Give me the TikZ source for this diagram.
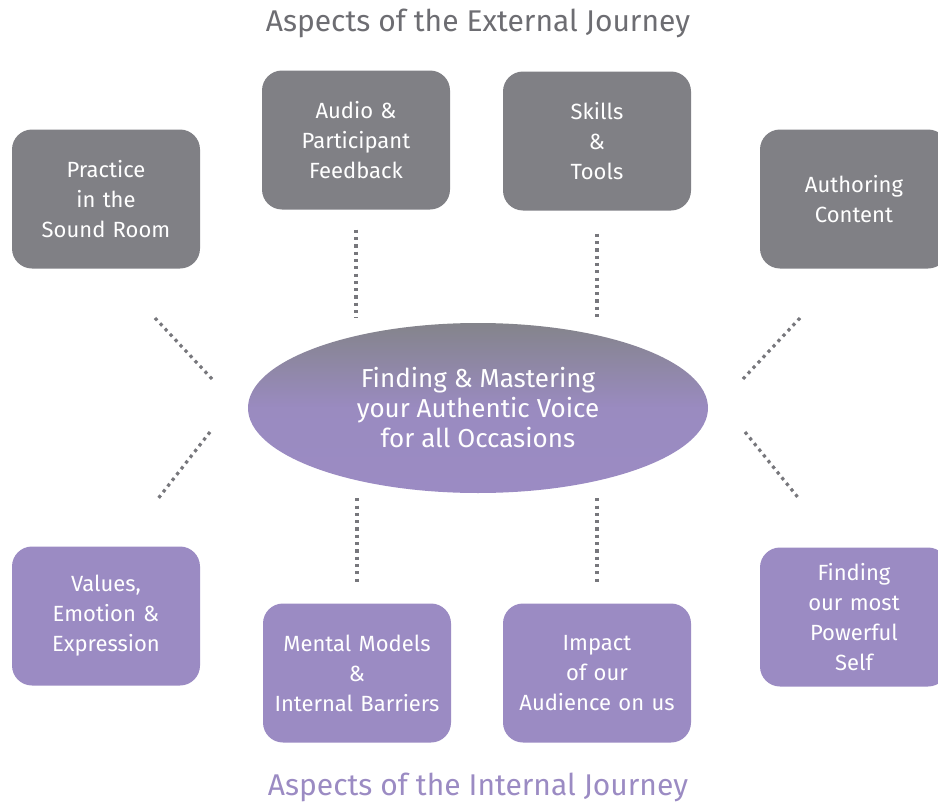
\documentclass[tikz,border=0pt]{standalone}
\usepackage{fontspec}
\setmainfont{Fira Sans}
\usetikzlibrary{shapes.geometric}
\definecolor{boxgrey}{HTML}{808085}
\definecolor{boxlilac}{HTML}{9B8BC3}
\definecolor{ellgrey}{HTML}{84848B}
\definecolor{titlegrey}{HTML}{6D6D72}
\definecolor{dotgrey}{HTML}{77777C}
\begin{document}
\begin{tikzpicture}[x=1pt,y=-1pt,
  aspect/.style={rounded corners=20pt,minimum width=188pt,minimum height=139pt,text width=185pt,align=center,text=white,inner sep=0pt,font=\fontsize{22}{30}\selectfont},
  outer/.style={aspect,fill=boxgrey},
  inner/.style={aspect,fill=boxlilac},
  dotline/.style={dotgrey,line width=3.2pt,dash pattern=on 3.2pt off 4.1pt}]
\clip (0,0) rectangle (938,803);
\node[ellipse,minimum width=460pt,minimum height=170pt,top color=ellgrey,bottom color=boxlilac,middle color=boxlilac!95!ellgrey,align=center,text=white,font=\fontsize{26}{30}\selectfont] (centre) at (478,408) {Finding \& Mastering\\your Authentic Voice\\for all Occasions};
\node[text=titlegrey,font=\fontsize{30}{30}\selectfont] (external) at (478,23) {Aspects of the External Journey};
\node[text=boxlilac,font=\fontsize{30}{30}\selectfont] (internal) at (478,787) {Aspects of the Internal Journey};
\node[outer] (practice) at (106,199) {Practice\\in the\\Sound Room};
\node[outer] (audio) at (356,140) {Audio \&\\Participant\\Feedback};
\node[outer] (skills) at (597,141) {Skills\\\&\\Tools};
\node[outer] (authoring) at (854,199) {Authoring\\Content};
\node[inner] (values) at (106,616) {Values,\\Emotion \&\\Expression};
\node[inner] (mental) at (357,673) {Mental Models\\\&\\Internal Barriers};
\node[inner] (impact) at (597,673) {Impact\\of our\\Audience on us};
\node[inner] (powerful) at (854,617) {Finding\\our most\\Powerful\\Self};
\coordinate (ul1) at (155,318);
\coordinate (ul2) at (213,380);
\coordinate (ll1) at (210,432);
\coordinate (ll2) at (157,500);
\coordinate (ur1) at (800,318);
\coordinate (ur2) at (742,380);
\coordinate (lr1) at (745,432);
\coordinate (lr2) at (800,500);
\draw[dotline,shorten <=20pt,shorten >=5pt] (audio.south) -- (audio.south |- centre.north);
\draw[dotline,shorten <=23pt,shorten >=5pt] (skills.south) -- (skills.south |- centre.north);
\draw[dotline,shorten <=5pt,shorten >=18pt] (mental.north |- centre.south) -- (mental.north);
\draw[dotline,shorten <=5pt,shorten >=18pt] (impact.north |- centre.south) -- (impact.north);
\draw[dotline] (ul1) -- (ul2);
\draw[dotline] (ll1) -- (ll2);
\draw[dotline] (ur1) -- (ur2);
\draw[dotline] (lr1) -- (lr2);
\end{tikzpicture}
\end{document}
